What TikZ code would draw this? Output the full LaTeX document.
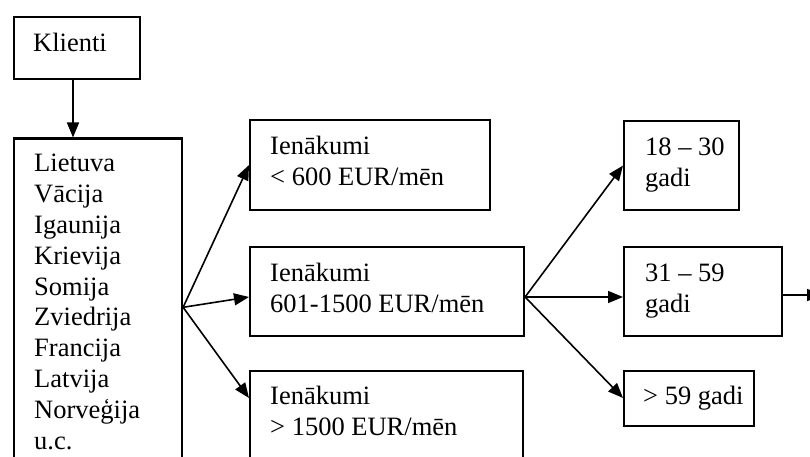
\documentclass[tikz,border=0pt]{standalone}
\usepackage{fontspec}
\setmainfont{Liberation Serif}
\usetikzlibrary{arrows.meta}
\begin{document}
\begin{tikzpicture}[x=1pt,y=-1pt,
  box/.style={draw, line width=2.1pt, rectangle, inner sep=0pt, anchor=north west},
  txt/.style={anchor=base west, inner sep=0pt, font=\fontsize{26.5}{30.8}\selectfont, align=left},
  arr/.style={line width=1.6pt, -{Triangle[length=15pt,width=12pt]}}]
\useasboundingbox (0,0) rectangle (810,457);
\clip (0,0) rectangle (810,457);
\fill[white] (0,0) rectangle (810,457);
% boxes
\node[box, minimum width=126pt, minimum height=62pt] (klienti) at (13,16) {};
\node[box, minimum width=168pt, minimum height=337.5pt] (countries) at (13,137.5) {};
\node[box, minimum width=240pt, minimum height=90pt] (A) at (249,119) {};
\node[box, minimum width=274pt, minimum height=89pt] (B) at (249,246) {};
\node[box, minimum width=273pt, minimum height=110pt] (C) at (249,370) {};
\node[box, minimum width=115pt, minimum height=89pt] (D) at (623,120) {};
\node[box, minimum width=158pt, minimum height=89pt] (E) at (623,246) {};
\node[box, minimum width=130pt, minimum height=55pt] (F) at (623,370) {};
% texts (base anchor = baseline of the last line)
\node[txt] (tk) at (33,52) {Klienti};
\node[txt] (tc) at (34,449) {Lietuva\\Vācija\\Igaunija\\Krievija\\Somija\\Zviedrija\\Francija\\Latvija\\Norveģija\\u.c.};
\node[txt] (ta) at (270,185) {Ienākumi\\< 600 EUR/mēn};
\node[txt] (tb) at (270,312) {Ienākumi\\601-1500 EUR/mēn};
\node[txt] (tcc) at (270,435) {Ienākumi\\> 1500 EUR/mēn};
\node[txt] (td) at (645,186) {18 – 30\\gadi};
\node[txt] (te) at (645,312) {31 – 59\\gadi};
\node[txt] (tf) at (643,404) {> 59 gadi};
% helper coordinates
\coordinate (ax) at (73,0);
\coordinate (yb) at (0,297);
\coordinate (yc) at (0,398);
\coordinate (ye) at (0,295);
\coordinate (bs) at (B.east |- yb);
\coordinate (out) at (822,295);
% connectors
\draw[arr] (klienti.south -| ax) -- (countries.north -| ax);
\draw[arr] (countries.east) -- (A.west);
\draw[arr] (countries.east) -- (B.west |- yb);
\draw[arr] (countries.east) -- (C.west |- yc);
\draw[arr] (bs) -- (D.west);
\draw[arr] (bs) -- (E.west |- yb);
\draw[arr] (bs) -- (F.west |- yc);
\draw[arr] (E.east |- ye) -- (out);
\end{tikzpicture}
\end{document}
